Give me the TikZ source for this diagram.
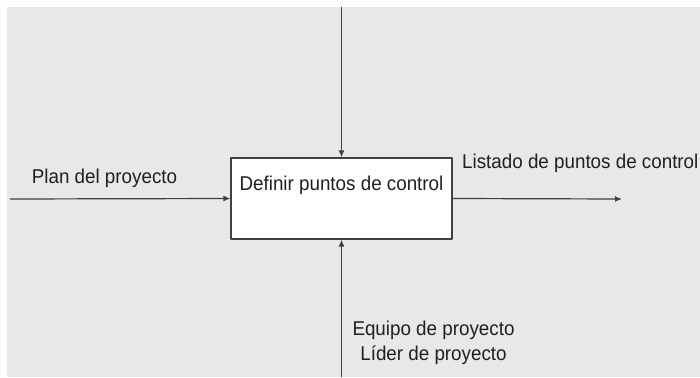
\documentclass[tikz,border=0pt]{standalone}
\usepackage{fontspec}
\setmainfont{Liberation Sans}
\usetikzlibrary{positioning,arrows.meta}
\definecolor{bggray}{HTML}{E8E8E8}
\definecolor{linegray}{HTML}{404040}
\definecolor{textgray}{HTML}{202020}
\newcommand{\sq}[1]{\scalebox{0.94}[1]{#1}}
\begin{document}
\begin{tikzpicture}[x=1pt, y=-1pt, font=\fontsize{20}{25}\selectfont, line join=round, >={Latex[length=7pt,width=6pt]},
            lbl/.style={inner sep=0pt, text=textgray},
            flow/.style={->, linegray, line width=1.2pt}]
            \useasboundingbox (0,0) rectangle (700,377);
            \fill[bggray] (7,7) rectangle (700,377);
            \node (box) [draw=linegray, fill=white, line width=1.2pt, minimum width=221pt, minimum height=81pt, inner sep=0pt] at (341.5,198.5) {};
            \node (boxtext) [lbl] at (341.5,185) {\sq{Definir puntos de control}};
            \coordinate (inA) at (10,199);
            \coordinate (outA) at (622,199);
            \coordinate (ctrlA) at (341.5,7);
            \coordinate (mechA) at (341.5,377);
            \draw[flow] (inA) -- (box.west);
            \draw[flow] (box.east) -- (outA);
            \draw[flow] (ctrlA) -- (box.north);
            \draw[flow] (mechA) -- (box.south);
            \node (inlbl) [lbl] at (104.5,178) {\sq{Plan del proyecto}};
            \node (outlbl) [lbl, anchor=west] at (462,163) {\sq{Listado de puntos de control}};
            \node (mechlbl) [lbl, align=center] at (433.5,342.5) {\sq{Equipo de proyecto}\\\sq{Líder de proyecto}};
        \end{tikzpicture}
\end{document}
